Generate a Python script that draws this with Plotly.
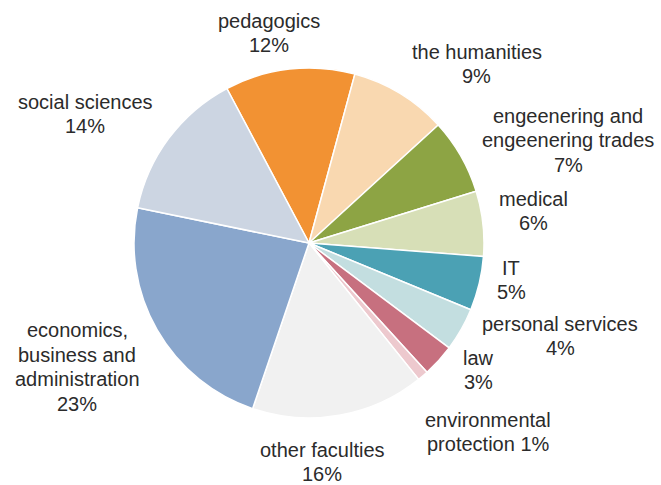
import plotly.graph_objects as go

# Share of students by faculty group (%), listed clockwise
faculties = [
    "pedagogics",
    "the humanities",
    "engeenering and<br>engeenering trades",
    "medical",
    "IT",
    "personal services",
    "law",
    "environmental<br>protection",
    "other faculties",
    "economics,<br>business and<br>administration",
    "social sciences",
]
shares = [12, 9, 7, 6, 5, 4, 3, 1, 16, 23, 14]

slice_colors = [
    "#F29233", "#F9D8B0", "#8DA444", "#D7DFB7", "#4BA1B4", "#C3DEE0",
    "#C7707F", "#EDC9CE", "#F1F1F1", "#89A6CC", "#CCD5E2",
]

# Label block centres in pixels (x from left, y from top)
label_xy = [
    (269, 33), (477, 64), (568, 140), (533, 211), (511, 280), (560, 336),
    (478, 370), (488, 432), (322, 462), (77, 367), (85, 114),
]
# labels whose percentage sits on the same line as the last word
same_line_pct = {"environmental<br>protection"}

W, H = 661, 485
cx, cy, r = 309, 243, 175
line_gap = 24.5

fig = go.Figure(
    go.Pie(
        labels=faculties,
        values=shares,
        sort=False,
        direction="clockwise",
        rotation=-28,
        textinfo="none",
        hoverinfo="label+percent",
        marker=dict(colors=slice_colors, line=dict(color="white", width=1.5)),
        domain=dict(
            x=[(cx - r) / W, (cx + r) / W],
            y=[(H - cy - r) / H, (H - cy + r) / H],
        ),
        showlegend=False,
    )
)

annotations = []
for name, v, (px, py) in zip(faculties, shares, label_xy):
    sep = " " if name in same_line_pct else "<br>"
    lines = f"{name}{sep}{v}%".split("<br>")
    n = len(lines)
    for i, line in enumerate(lines):
        ly = py + (i - (n - 1) / 2) * line_gap
        annotations.append(
            dict(
                text=line,
                x=px / W,
                y=1 - ly / H,
                xref="paper",
                yref="paper",
                xanchor="center",
                yanchor="middle",
                showarrow=False,
                align="center",
                font=dict(family="Liberation Sans, Arial, sans-serif", size=20, color="#2b2b2b"),
            )
        )

fig.update_layout(
    width=W,
    height=H,
    margin=dict(l=0, r=0, t=0, b=0),
    paper_bgcolor="white",
    plot_bgcolor="white",
    annotations=annotations,
)

fig.write_html("out.html")
